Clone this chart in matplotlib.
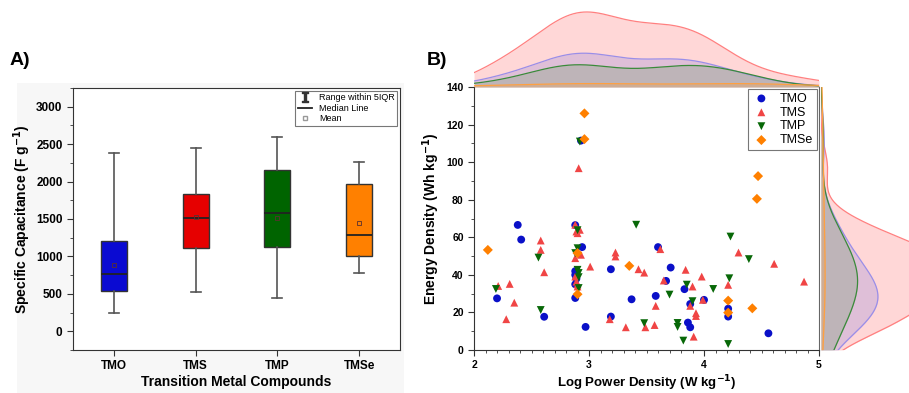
import numpy as np
import matplotlib
matplotlib.use("Agg")
import matplotlib.pyplot as plt
from matplotlib.lines import Line2D
from matplotlib.patches import Rectangle
from matplotlib.ticker import MultipleLocator

plt.rcParams["font.family"] = ["Liberation Sans", "DejaVu Sans"]

# ---- panel A: box statistics ----
groups = ["TMO", "TMS", "TMP", "TMSe"]
box_colors = ["#0a0ad2", "#e60000", "#006400", "#ff8000"]
whis_lo = [250, 530, 440, 780]
q1 = [540, 1110, 1120, 1000]
median = [770, 1520, 1580, 1280]
q3 = [1200, 1840, 2150, 1970]
whis_hi = [2380, 2450, 2600, 2260]
mean = [890, 1530, 1520, 1440]

# ---- panel B: scatter data ----
tmo_x = [2.20, 2.38, 2.41, 2.61, 2.88, 2.88, 2.88, 2.88, 2.89, 2.88, 2.94, 2.93,
         2.97, 3.19, 3.19, 3.37, 3.58, 3.60, 3.67, 3.71, 3.83, 3.86, 3.88, 3.88,
         4.00, 4.21, 4.21, 4.56]
tmo_y = [27.5, 66.6, 58.8, 17.7, 66.5, 42.0, 40.0, 35.0, 38.0, 27.7, 54.8, 111.5,
         12.3, 43.0, 17.8, 27.0, 28.8, 54.8, 36.8, 43.9, 32.4, 14.6, 12.1, 24.5,
         26.7, 22.0, 17.8, 8.9]

tms_x = [2.21, 2.28, 2.31, 2.35, 2.58, 2.58, 2.61, 2.88, 2.89, 2.90, 2.92, 2.88,
         2.93, 2.88, 2.89, 2.90, 2.90, 2.91, 3.01, 3.18, 3.23, 3.23, 3.32, 3.43,
         3.48, 3.49, 3.57, 3.58, 3.62, 3.65, 3.84, 3.88, 3.90, 3.93, 3.93, 3.91,
         3.98, 3.99, 4.21, 4.30, 4.61, 4.87]
tms_y = [34.1, 16.4, 35.2, 25.2, 58.3, 53.3, 41.4, 66.7, 63.1, 62.2, 64.0, 48.9,
         50.7, 39.1, 36.4, 35.0, 33.8, 96.8, 44.4, 16.4, 51.9, 49.8, 12.1, 43.0,
         41.2, 12.1, 13.3, 23.5, 53.7, 37.0, 42.7, 23.5, 33.8, 19.6, 18.1, 7.1,
         39.1, 26.7, 34.7, 51.9, 45.9, 36.4]

tmp_x = [2.19, 2.56, 2.58, 2.90, 2.90, 2.88, 2.90, 2.91, 2.91, 2.91, 2.92, 3.41,
         3.48, 3.70, 3.77, 3.77, 3.82, 3.85, 3.90, 4.08, 4.21, 4.22, 4.23, 4.39]
tmp_y = [32.5, 49.2, 21.3, 63.8, 54.2, 51.6, 42.7, 41.0, 38.8, 33.0, 111.0, 66.7,
         14.3, 29.5, 14.4, 12.3, 5.0, 34.8, 26.0, 32.5, 3.2, 38.2, 60.4, 48.4]

tmse_x = [2.12, 2.90, 2.90, 2.96, 2.96, 3.35, 4.21, 4.21, 4.42, 4.46, 4.47]
tmse_y = [53.3, 51.6, 29.7, 126.0, 112.3, 44.8, 26.3, 19.9, 22.2, 80.5, 92.6]

# name, x, y, marker, marker colour, fill colour, fill alpha, edge colour
series = [
    ("TMO", tmo_x, tmo_y, "o", "#0a10c8", "#6060e0", 0.20, "#9a8ee8"),
    ("TMS", tms_x, tms_y, "^", "#f04545", "#ff4d4d", 0.22, "#ff8080"),
    ("TMP", tmp_x, tmp_y, "v", "#086808", "#3c8c3c", 0.20, "#3a8a3a"),
    ("TMSe", tmse_x, tmse_y, "D", "#ff8000", "#ff9a30", 0.25, "#ffa040"),
]
draw_order = ["TMS", "TMO", "TMP", "TMSe"]


def kde(values, grid, scale=1.0):
    values = np.asarray(values, dtype=float)
    bw = scale * values.std(ddof=1) * len(values) ** (-0.2)
    z = (grid[:, None] - values[None, :]) / bw
    return np.exp(-0.5 * z ** 2).sum(axis=1) / (bw * np.sqrt(2 * np.pi))


fig = plt.figure(figsize=(9.09, 3.93), dpi=100)
fig.patches.append(Rectangle((0.019, 0.0), 0.425, 0.79, transform=fig.transFigure,
                             facecolor="#f7f7f7", edgecolor="none", zorder=-5))

# ================= panel A =================
ax1 = fig.add_axes([0.0803, 0.1094, 0.3597, 0.6667])
stats = []
for i in range(len(groups)):
    stats.append(dict(label=groups[i], whislo=whis_lo[i], q1=q1[i], med=median[i],
                      q3=q3[i], whishi=whis_hi[i], mean=mean[i], fliers=[]))
bp = ax1.bxp(stats, positions=range(1, 5), widths=0.32, capwidths=0.12,
             patch_artist=True, showmeans=True,
             boxprops=dict(edgecolor="#333333", linewidth=1.0),
             whiskerprops=dict(color="#555555", linewidth=1.2),
             capprops=dict(color="#555555", linewidth=1.2),
             medianprops=dict(color="#222222", linewidth=1.3),
             meanprops=dict(marker="s", markersize=3, markerfacecolor="none",
                            markeredgecolor="#5a3030", markeredgewidth=0.6))
for patch, c in zip(bp["boxes"], box_colors):
    patch.set_facecolor(c)

ax1.set_xlim(0.5, 4.5)
ax1.set_ylim(-250, 3250)
ax1.set_xticks(range(1, 5), groups)
ax1.yaxis.set_major_locator(MultipleLocator(500))
ax1.yaxis.set_minor_locator(MultipleLocator(250))
ax1.tick_params(axis="both", which="both", direction="out", top=False, right=False,
                labelsize=8.5, color="#333333")
ax1.tick_params(which="major", length=4)
ax1.tick_params(which="minor", length=2.5)
for lbl in ax1.get_xticklabels() + ax1.get_yticklabels():
    lbl.set_fontweight("bold")
for sp in ax1.spines.values():
    sp.set_color("#333333")
ax1.set_ylabel("Specific Capacitance (F g$^{\\mathbf{-1}}$)", fontsize=10,
               fontweight="bold", labelpad=2)
ax1.set_xlabel("Transition Metal Compounds", fontsize=10, fontweight="bold",
               labelpad=2)

handles = [
    Line2D([], [], marker="$\\mathtt{I}$", color="#333333", linestyle="none",
           markersize=7),
    Line2D([], [], color="#222222", linewidth=1.3),
    Line2D([], [], marker="s", markersize=2.5, markerfacecolor="none",
           markeredgecolor="#999999", linestyle="none"),
]
leg1 = ax1.legend(handles, ["Range within 5IQR", "Median Line", "Mean"],
                  loc="upper right", fontsize=6.5, frameon=True, fancybox=False,
                  edgecolor="#555555", handlelength=1.5, labelspacing=0.15,
                  borderpad=0.3, borderaxespad=0.3)
leg1.get_frame().set_linewidth(0.8)

fig.text(0.011, 0.835, "A)", fontsize=14, fontweight="bold")
fig.text(0.470, 0.835, "B)", fontsize=14, fontweight="bold")

# ================= panel B =================
ax2 = fig.add_axes([0.5215, 0.1094, 0.3795, 0.669])
for name, xs, ys, mk, col, _, _, _ in series:
    ax2.scatter(xs, ys, marker=mk, s=32 if mk != "D" else 26, color=col,
                edgecolors="none", label=name, zorder=3)
ax2.set_xlim(2, 5)
ax2.set_ylim(0, 140)
ax2.xaxis.set_major_locator(MultipleLocator(1))
ax2.xaxis.set_minor_locator(MultipleLocator(0.1))
ax2.yaxis.set_major_locator(MultipleLocator(20))
ax2.yaxis.set_minor_locator(MultipleLocator(10))
ax2.tick_params(axis="both", which="both", direction="out", top=False, right=False,
                labelsize=7.5, color="#333333")
ax2.tick_params(which="major", length=4)
ax2.tick_params(which="minor", length=2)
for lbl in ax2.get_xticklabels() + ax2.get_yticklabels():
    lbl.set_fontweight("bold")
ax2.spines["top"].set_visible(False)
for s in ["left", "bottom"]:
    ax2.spines[s].set_color("#333333")
ax2.spines["right"].set_color("#666666")
ax2.set_xlabel("Log Power Density (W kg$^{\\mathbf{-1}}$)", fontsize=9.5,
               fontweight="bold", labelpad=2)
ax2.set_ylabel("Energy Density (Wh kg$^{\\mathbf{-1}}$)", fontsize=10,
               fontweight="bold", labelpad=3)
leg2 = ax2.legend(loc="upper right", fontsize=9, frameon=True, fancybox=False,
                  edgecolor="#555555", handletextpad=0.7, labelspacing=0.15,
                  borderpad=0.3, borderaxespad=0.15, handlelength=1.6)
leg2.get_frame().set_linewidth(0.8)

# marginal densities
axt = fig.add_axes([0.5215, 0.7786, 0.3795, 0.196], sharex=ax2)
axr = fig.add_axes([0.903, 0.1094, 0.097, 0.669], sharey=ax2)
gx = np.linspace(2, 5, 300)
gy = np.linspace(0, 140, 300)
lookup = {s[0]: s for s in series}
top_max, right_blue = 0, 0
for name in draw_order:
    _, xs, ys, mk, col, fillc, alpha, edgec = lookup[name]
    dx = kde(xs, gx, scale=1.05) * len(xs)
    dy = kde(ys, gy, scale=1.2) * len(ys)
    axt.fill_between(gx, 0, dx, color=fillc, alpha=alpha, linewidth=0)
    axt.plot(gx, dx, color=edgec, linewidth=0.9)
    axr.fill_betweenx(gy, 0, dy, color=fillc, alpha=alpha, linewidth=0)
    axr.plot(dy, gy, color=edgec, linewidth=0.9)
    top_max = max(top_max, dx.max())
    if name == "TMO":
        right_blue = dy.max()
axt.set_ylim(0, top_max * 77 / 75)
axr.set_xlim(0, right_blue * 88 / 57)
for a in (axt, axr):
    a.set_axis_off()

fig.savefig("out.png", dpi=100)
